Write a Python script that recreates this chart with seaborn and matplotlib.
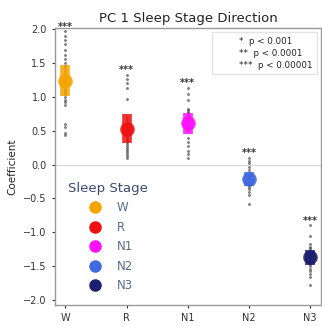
import matplotlib
matplotlib.use("Agg")
import matplotlib.pyplot as plt
from matplotlib.lines import Line2D
import seaborn as sns
import pandas as pd
import numpy as np

stages = ["W", "R", "N1", "N2", "N3"]
colors = ["#f7a400", "#f01010", "#ff10ff", "#4169e1", "#1c1f6e"]

W_vals = [1.97, 1.90, 1.84, 1.78, 1.70, 1.62, 1.56, 1.50, 1.46, 1.44, 1.40, 1.36,
          1.32, 1.30, 1.28, 1.26, 1.24, 1.22, 1.20, 1.17, 1.14, 1.10, 1.07, 1.04,
          1.00, 0.96, 0.92, 0.88, 0.60, 0.55, 0.47, 0.43]
R_vals = [1.33, 1.27, 1.20, 1.14, 0.97, 0.70, 0.66, 0.62, 0.58, 0.55, 0.52, 0.50,
          0.48, 0.45, 0.42, 0.40, 0.37, 0.35, 0.33, 0.30, 0.27, 0.24, 0.21, 0.18,
          0.15, 0.12, 0.09]
N1_vals = [1.13, 1.05, 0.95, 0.82, 0.80, 0.78, 0.76, 0.74, 0.72, 0.70, 0.68, 0.66,
           0.64, 0.62, 0.60, 0.58, 0.56, 0.54, 0.52, 0.50, 0.40, 0.33, 0.27, 0.20,
           0.15, 0.10]
N2_vals = [0.10, 0.06, 0.02, -0.03, -0.08, -0.12, -0.15, -0.18, -0.20, -0.22, -0.24,
           -0.25, -0.26, -0.27, -0.28, -0.30, -0.33, -0.36, -0.40, -0.45, -0.58]
N3_vals = [-0.90, -1.05, -1.18, -1.22, -1.24, -1.26, -1.28, -1.29, -1.32, -1.34, -1.36,
           -1.38, -1.40, -1.42, -1.44, -1.47, -1.50, -1.54, -1.58, -1.62, -1.67, -1.78]
stars = ["***", "***", "***", "***", "***"]
sig_labels = ["*  p < 0.001", "**  p < 0.0001", "***  p < 0.00001"]

values = [W_vals, R_vals, N1_vals, N2_vals, N3_vals]
df = pd.DataFrame({
    "Sleep Stage": np.concatenate([[s] * len(v) for s, v in zip(stages, values)]),
    "Coefficient": np.concatenate(values),
})

sns.set_style("ticks")
plt.rcParams["font.family"] = ["DejaVu Sans"]

fig = plt.figure(figsize=(3.22, 3.26), dpi=100)
ax = fig.add_axes([0.171, 0.064, 0.826, 0.85])

ax.axhline(0, color="#d8d8d8", lw=0.9, zorder=0)

sns.stripplot(data=df, x="Sleep Stage", y="Coefficient", order=stages,
              color="#4a4a4a", size=2.1, jitter=False, alpha=0.7, ax=ax, zorder=2)
sns.pointplot(data=df, x="Sleep Stage", y="Coefficient", hue="Sleep Stage",
              order=stages, hue_order=stages, palette=colors,
              errorbar=("sd", 0.58), linestyle="none", markersize=8.5,
              err_kws={"linewidth": 7, "alpha": 0.8, "solid_capstyle": "butt"},
              ax=ax, legend=False)
for ln in ax.lines[1:]:
    ln.set_zorder(3)
    ln.set_alpha(0.85)

for i, (v, s) in enumerate(zip(values, stars)):
    ax.text(i, max(v) + 0.07, s, ha="center", va="center", fontsize=7,
            color="#333333", fontweight="bold")

ax.set_xlim(-0.17, 4.18)
ax.set_ylim(-2.08, 2.02)
ax.set_yticks([-2.0, -1.5, -1.0, -0.5, 0.0, 0.5, 1.0, 1.5, 2.0])
ax.set_xlabel("")
ax.set_ylabel("Coefficient", fontsize=7.5, color="#222222")
ax.set_title("PC 1 Sleep Stage Direction", fontsize=9.5, color="#222222", pad=4)
ax.tick_params(labelsize=7, colors="#333333", length=2.5, width=0.8)
for sp in ax.spines.values():
    sp.set_color("#999999")
    sp.set_linewidth(1.0)

handles = [Line2D([], [], marker="o", linestyle="none", markersize=8,
                  markerfacecolor=c, markeredgecolor=c) for c in colors]
leg = ax.legend(handles, stages, title="Sleep Stage", loc="lower left",
                bbox_to_anchor=(0.0, 0.0), frameon=False, fontsize=8.5,
                title_fontsize=9.5, labelspacing=0.55, handletextpad=0.8,
                borderpad=0.6)
leg.get_title().set_color("#3b4a72")
for t in leg.get_texts():
    t.set_color("#5a6a88")
ax.add_artist(leg)

sig_handles = [Line2D([], [], linestyle="none") for _ in sig_labels]
leg2 = ax.legend(sig_handles, sig_labels, loc="upper right", fontsize=6.3,
                 handlelength=2.2, handletextpad=0.4, frameon=True, fancybox=False,
                 edgecolor="#dddddd", borderpad=0.5, labelspacing=0.35)
for t in leg2.get_texts():
    t.set_color("#222222")

fig.savefig("out.png", dpi=100)
